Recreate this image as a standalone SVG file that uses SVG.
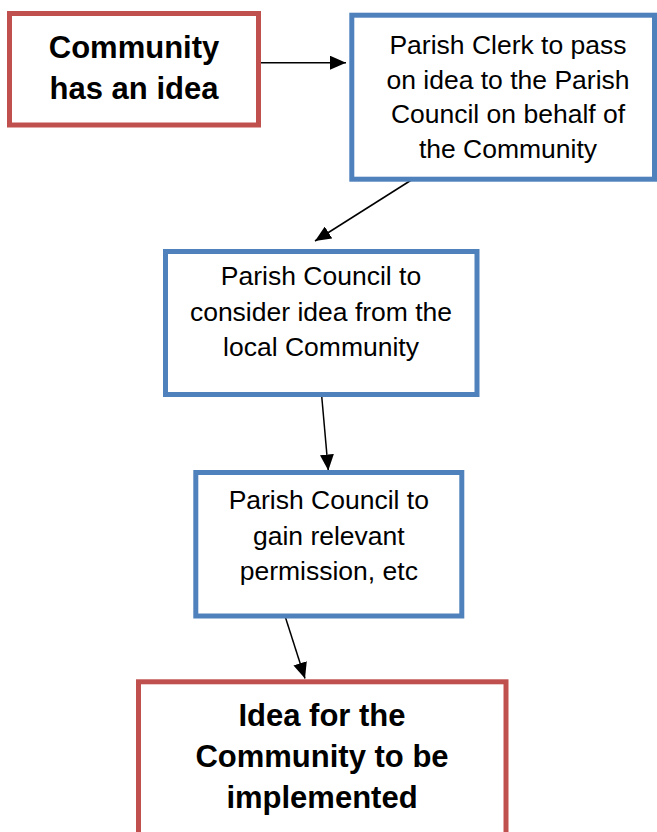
<svg xmlns="http://www.w3.org/2000/svg" width="657" height="832" viewBox="0 0 657 832">
<style>
.red{fill:#fff;stroke:#C0504D;stroke-width:5}
.blue{fill:#fff;stroke:#4F81BD;stroke-width:5}
.b{font-family:"Liberation Sans",Arial,sans-serif;font-weight:bold;font-size:31px;fill:#000;text-anchor:middle}
.r{font-family:"Liberation Sans",Arial,sans-serif;font-size:26.5px;fill:#000;text-anchor:middle}
.c{stroke:#000;stroke-width:1.5;fill:none;marker-end:url(#ah)}
</style>
<defs>
<marker id="ah" markerUnits="userSpaceOnUse" markerWidth="16" markerHeight="14" refX="16" refY="7" orient="auto">
<path d="M0,0 L16,7 L0,14 z" fill="#000"/>
</marker>
</defs>
<rect width="657" height="832" fill="#fff"/>
<g id="connectors">
<line class="c" x1="260" y1="62.7" x2="346" y2="62.7"/>
<line class="c" x1="413" y1="179" x2="315" y2="241"/>
<line class="c" x1="321.7" y1="396" x2="328.3" y2="470.5"/>
<line class="c" x1="285" y1="616" x2="305" y2="678.5"/>
</g>
<g id="n1">
<rect class="red" x="9.5" y="13.5" width="249" height="111.5"/>
<text class="b" x="134" y="58">Community</text>
<text class="b" x="134" y="99">has an idea</text>
</g>
<g id="n2">
<rect class="blue" x="351.8" y="15.2" width="302.7" height="164"/>
<text class="r" x="508" y="54">Parish Clerk to pass</text>
<text class="r" x="508" y="88.7">on idea to the Parish</text>
<text class="r" x="508" y="123.4">Council on behalf of</text>
<text class="r" x="508" y="158">the Community</text>
</g>
<g id="n3">
<rect class="blue" x="165.5" y="251.5" width="311.5" height="143"/>
<text class="r" x="321" y="285">Parish Council to</text>
<text class="r" x="321" y="320.5">consider idea from the</text>
<text class="r" x="321" y="356">local Community</text>
</g>
<g id="n4">
<rect class="blue" x="195.8" y="472.5" width="266" height="143.5"/>
<text class="r" x="328.8" y="509">Parish Council to</text>
<text class="r" x="328.8" y="544.5">gain relevant</text>
<text class="r" x="328.8" y="580">permission, etc</text>
</g>
<g id="n5">
<rect class="red" x="138.5" y="681.8" width="367.5" height="170"/>
<text class="b" x="322" y="726">Idea for the</text>
<text class="b" x="322" y="767">Community to be</text>
<text class="b" x="322" y="808">implemented</text>
</g>
</svg>
